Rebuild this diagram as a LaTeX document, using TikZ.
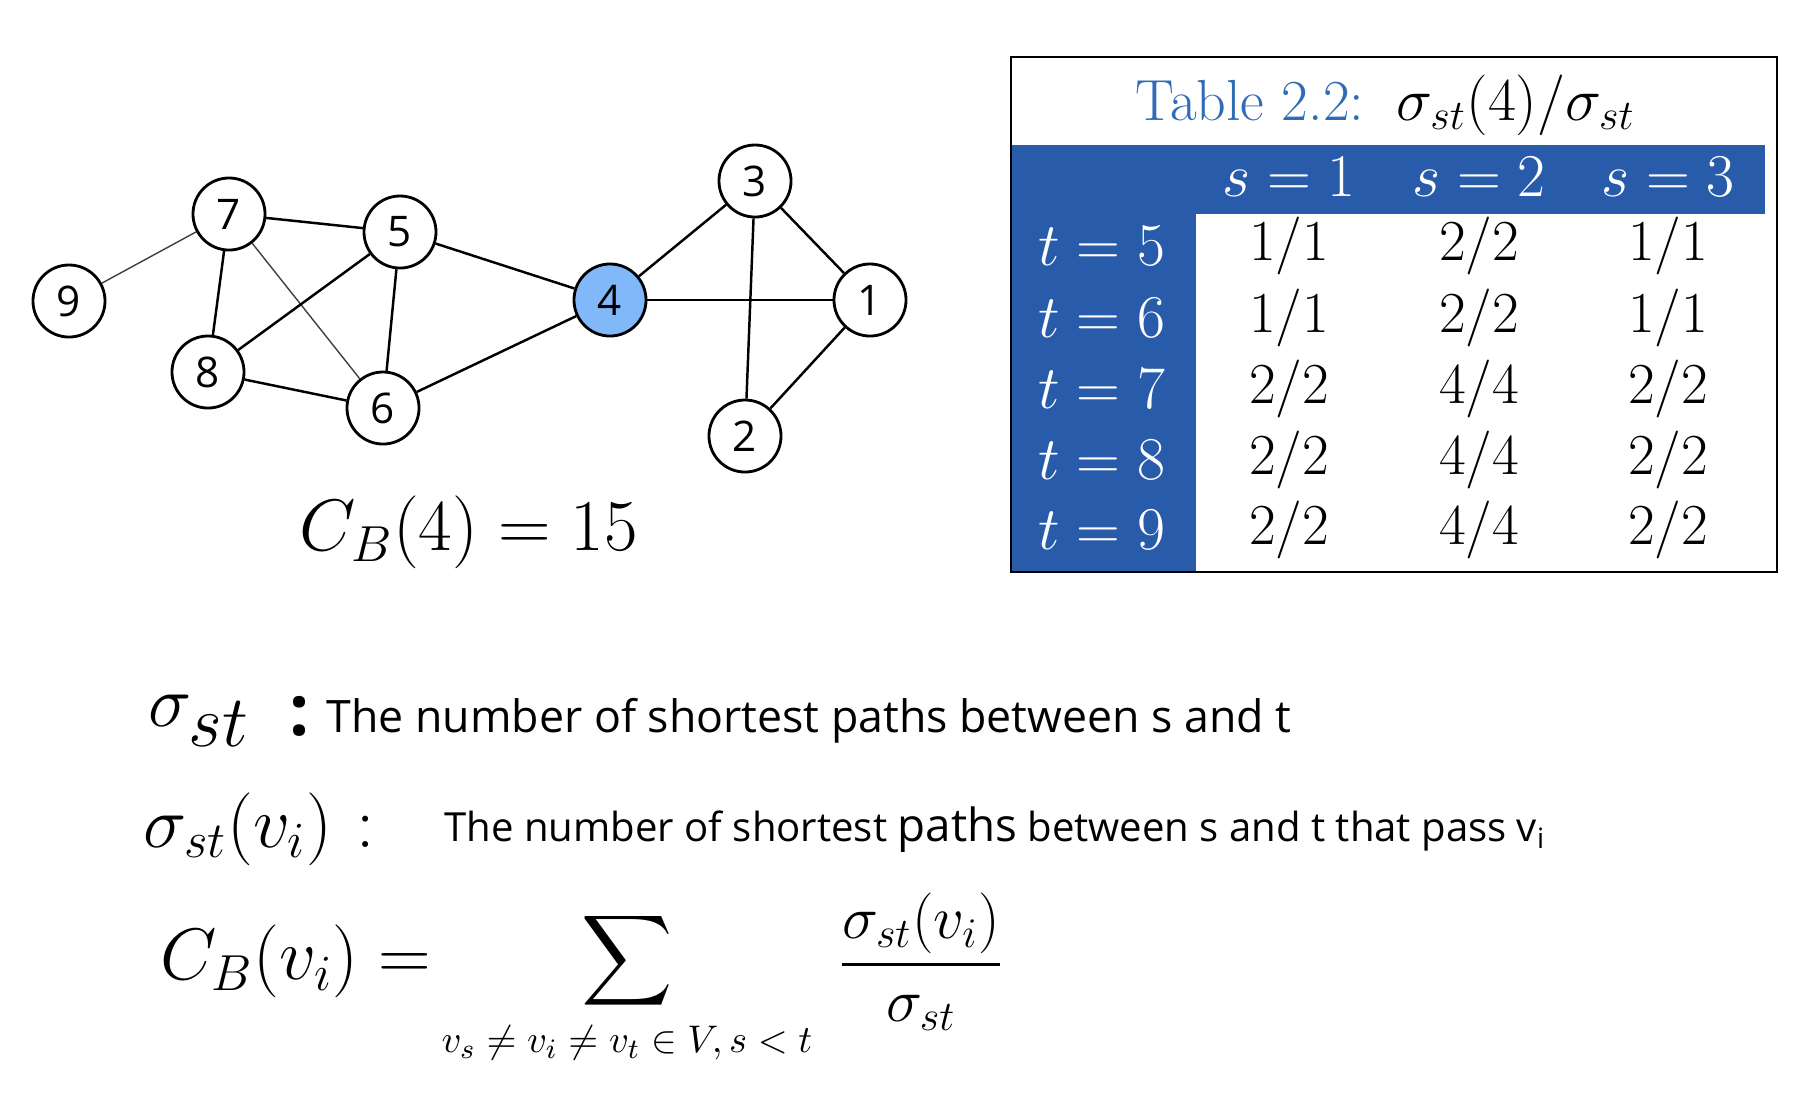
\documentclass[tikz,border=0pt]{standalone}
\usepackage{amsmath, amssymb}
\usepackage{fontspec}
\newfontfamily\opensans{Open Sans}
\usepackage{tikz}
\usetikzlibrary{calc}

\definecolor{nodeblue}{RGB}{128,184,250}
\definecolor{tabblue}{RGB}{40,92,171}
\definecolor{titleblue}{RGB}{47,108,180}

\tikzset{
  vertex/.style={circle, draw, line width=0.8pt, minimum size=0.72cm, inner sep=0pt,
    fill=white, font=\opensans\fontsize{12}{12}\selectfont},
  edge/.style={line width=0.7pt},
  thinedge/.style={line width=0.4pt, black!75},
  cell/.style={font=\fontsize{16.5}{16.5}\selectfont},
  headcell/.style={cell, text=white},
}

\begin{document}
\begin{tikzpicture}[x=0.01cm, y=-0.01cm]
  \useasboundingbox (0,0) rectangle (1794,1102);

  % graph
  \node[vertex] (n9) at (69,301) {9};
  \node[vertex] (n7) at (229,214) {7};
  \node[vertex] (n5) at (400,232) {5};
  \node[vertex] (n8) at (208,372) {8};
  \node[vertex] (n6) at (383,408) {6};
  \node[vertex, fill=nodeblue] (n4) at (610,300) {4};
  \node[vertex] (n3) at (755,181) {3};
  \node[vertex] (n1) at (870,300) {1};
  \node[vertex] (n2) at (745,436) {2};

  \draw[thinedge] (n9) -- (n7);
  \draw[thinedge] (n7) -- (n6);
  \foreach \a/\b in {7/5, 7/8, 5/8, 5/6, 5/4, 8/6, 6/4, 4/3, 4/1, 3/1, 3/2, 1/2}
    \draw[edge] (n\a) -- (n\b);

  \node[font=\fontsize{21}{21}\selectfont] (cb4) at (469,532) {$C_B(4) = 15$};

  % table
  \fill[tabblue] (1011,145) rectangle (1765,214);
  \fill[tabblue] (1011,145) rectangle (1196,572);
  \draw[line width=0.6pt] (1011,57) rectangle (1777,572);
  \node[cell, text=titleblue] (title) at (1250,101) {Table 2.2:};
  \node[cell] (ratio) at (1516,105) {$\sigma_{st}(4)/\sigma_{st}$};

  \foreach \s/\x in {1/1289, 2/1479, 3/1668}
    \node[headcell] (s\s) at (\x,177) {$s=\s$};
  \foreach \t/\y/\a/\b/\c in {5/246/1/2/1, 6/318/1/2/1, 7/389/2/4/2, 8/460/2/4/2, 9/530/2/4/2} {
    \node[headcell] (t\t) at (1102,\y) {$t=\t$};
    \node[cell] (a\t) at (1289,\y) {\a/\a};
    \node[cell] (b\t) at (1479,\y) {\b/\b};
    \node[cell] (c\t) at (1668,\y) {\c/\c};
  }

  % definitions
  \node[font=\fontsize{22}{22}\selectfont] (sig) at (199,721) {$\sigma_{\textstyle st}$};
  \node[font=\opensans\fontsize{20}{20}\selectfont] (colA) at (300,716) {\textbf{:}};
  \node[anchor=base west, inner sep=0pt, font=\opensans\fontsize{12.7}{14}\selectfont] (defA) at (326,732)
    {The number of shortest paths between s and t};

  \node[anchor=base west, inner sep=0pt, font=\fontsize{20}{20}\selectfont] (sigv) at (143,847) {$\sigma_{st}(v_i)$};
  \node[anchor=base, inner sep=0pt, font=\fontsize{20}{20}\selectfont] (colB) at (366,847) {$:$};
  \node[anchor=base west, inner sep=0pt, font=\opensans\fontsize{11.4}{14}\selectfont] (defB) at (444,841)
    {The number of shortest {\fontsize{13}{14}\selectfont paths} between s and t that pass v\textsubscript{i}};

  % formula
  \node[font=\fontsize{19.5}{19.5}\selectfont] (cbv) at (296,961) {$C_B(v_i) =$};
  \node[font=\fontsize{18}{18}\selectfont] (sum) at (627,961) {$\displaystyle\sum$};
  \node[font=\fontsize{11}{12}\selectfont] (sumsub) at (627,1043) {$v_s\neq v_i\neq v_t\in V, s<t$};
  \node[font=\fontsize{18}{18}\selectfont] (frac) at (921,962) {$\displaystyle\frac{\sigma_{st}(v_i)}{\sigma_{st}}$};
\end{tikzpicture}
\end{document}
